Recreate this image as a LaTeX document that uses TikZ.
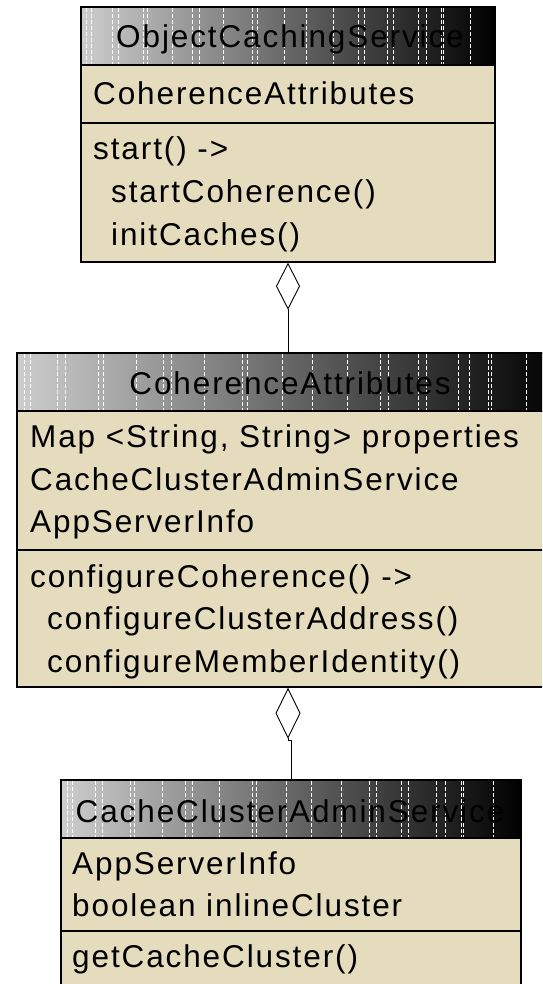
\documentclass[tikz,border=0pt]{standalone}
\usepackage{fontspec}
\newfontfamily\umlfont[LetterSpace=6]{Liberation Sans}
\usetikzlibrary{arrows.meta}
\definecolor{umlbeige}{RGB}{229,219,189}
\definecolor{hdrlight}{RGB}{205,205,205}
\tikzset{
  umlbox/.style={draw=black, line width=1.4pt, fill=umlbeige, inner sep=0pt},
  hdr/.style={draw=black, line width=1.4pt, left color=hdrlight, right color=black, inner sep=0pt, anchor=north west, minimum height=58pt},
  sep/.style={draw=black, line width=1.8pt},
  txt/.style={anchor=base west, inner sep=0pt, font=\umlfont\fontsize{31.5pt}{38pt}\selectfont},
  htxt/.style={anchor=base, inner sep=0pt, font=\umlfont\fontsize{31.5pt}{38pt}\selectfont},
  conn/.style={draw=black, line width=0.9pt},
  streak/.style={draw=white, line width=0.7pt, dash pattern=on 4pt off 2pt}
}
\begin{document}
\begin{tikzpicture}[x=1pt,y=-1pt]
\useasboundingbox (0,0) rectangle (542,984);
\clip (0,0) rectangle (542,984);
\fill[white] (0,0) rectangle (542,984);

% ---------- Box 1: ObjectCachingService
\node[umlbox, minimum width=414pt, minimum height=255pt] (b1) at (288,134.5) {};
\node[hdr, minimum width=414pt] (h1) at (81,7) {};
\foreach \f in {0.013,0.025,0.075,0.09,0.15,0.16,0.22,0.27,0.285,0.345,0.415,0.425,0.49,0.545,0.61,0.67,0.685,0.74,0.755,0.815,0.835,0.87,0.875,0.94}
  \draw[streak] (81+\f*414,8) -- (81+\f*414,64);
\draw[draw=black, line width=1.4pt] (81,7) rectangle (495,65);
\node[htxt] (t1h) at (290,48) {ObjectCachingService};
\node[txt] (t1a) at (93,104.5) {CoherenceAttributes};
\draw[sep] (81,123) -- (495,123);
\node[txt] (t1m1) at (93,160) {start() ->};
\node[txt] (t1m2) at (111,202.5) {startCoherence()};
\node[txt] (t1m3) at (111,245) {initCaches()};

% ---------- Box 2: CoherenceAttributes
\node[umlbox, minimum width=542pt, minimum height=334pt] (b2) at (288,520) {};
\node[hdr, minimum width=542pt] (h2) at (17,353) {};
\foreach \f in {0.013,0.025,0.075,0.09,0.15,0.16,0.22,0.27,0.285,0.345,0.415,0.425,0.49,0.545,0.61,0.67,0.685,0.74,0.755,0.815,0.835,0.87,0.875,0.94}
  \draw[streak] (17+\f*542,354) -- (17+\f*542,410);
\draw[draw=black, line width=1.4pt] (17,353) rectangle (559,411);
\node[htxt] (t2h) at (290,394) {CoherenceAttributes};
\node[txt] (t2a1) at (30,447.5) {Map <String, String> properties};
\node[txt] (t2a2) at (30,490) {CacheClusterAdminService};
\node[txt] (t2a3) at (30,532.5) {AppServerInfo};
\draw[sep] (17,550) -- (559,550);
\node[txt] (t2m1) at (30,587) {configureCoherence() ->};
\node[txt] (t2m2) at (47,629.5) {configureClusterAddress()};
\node[txt] (t2m3) at (47,672) {configureMemberIdentity()};

% ---------- Box 3: CacheClusterAdminService
\node[umlbox, minimum width=460pt, minimum height=220pt] (b3) at (291,890) {};
\node[hdr, minimum width=460pt] (h3) at (61,780) {};
\foreach \f in {0.013,0.025,0.075,0.09,0.15,0.16,0.22,0.27,0.285,0.345,0.415,0.425,0.49,0.545,0.61,0.67,0.685,0.74,0.755,0.815,0.835,0.87,0.875,0.94}
  \draw[streak] (61+\f*460,781) -- (61+\f*460,837);
\draw[draw=black, line width=1.4pt] (61,780) rectangle (521,838);
\node[htxt] (t3h) at (290,822) {CacheClusterAdminService};
\node[txt] (t3a1) at (72,874) {AppServerInfo};
\node[txt] (t3a2) at (72,916.5) {boolean inlineCluster};
\draw[sep] (61,931) -- (521,931);
\node[txt] (t3m1) at (72,967.5) {getCacheCluster()};

% ---------- Connectors (aggregation)
\draw[conn, {Diamond[open, length=47pt, width=24pt]}-] (b1.south) -- (b2.north);
\draw[conn, {Diamond[open, length=51pt, width=25pt]}-] (b2.south) -- ++(0,53) -| (b3.north);
\end{tikzpicture}
\end{document}
